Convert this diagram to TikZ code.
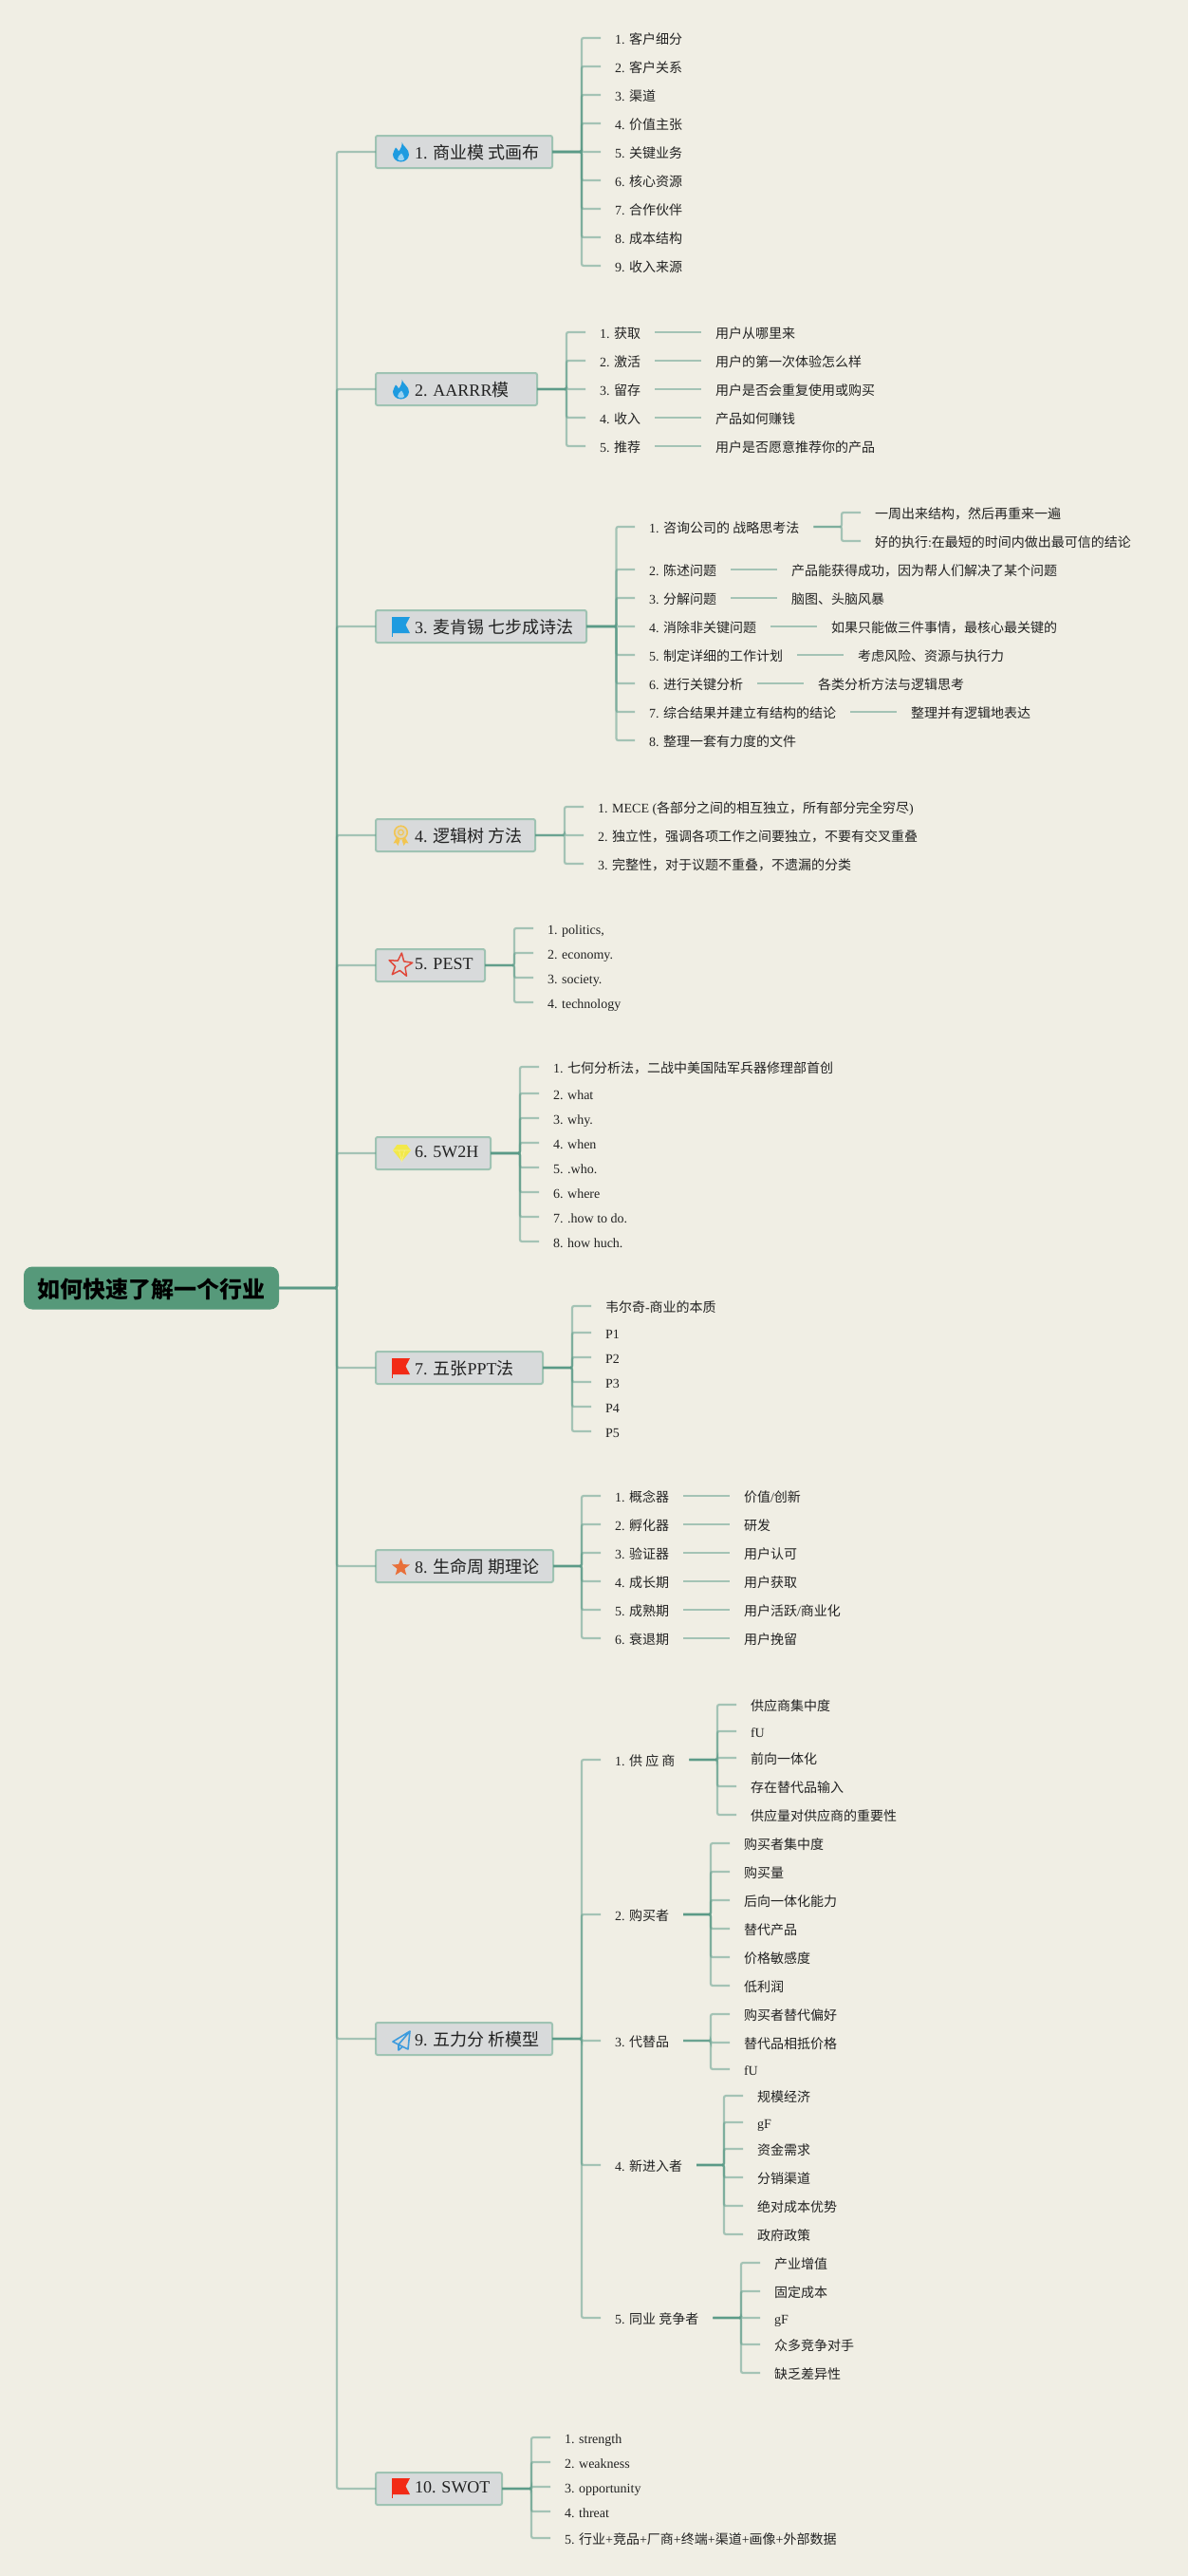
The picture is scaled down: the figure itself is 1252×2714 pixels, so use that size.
\documentclass[tikz,border=0pt]{standalone}
\usepackage{fontspec}
\setmainfont{Liberation Serif}
\newfontfamily\cjk{Noto Sans CJK SC}
\newcommand\zh[1]{{\cjk #1}}
\definecolor{paper}{HTML}{F0EEE4}
\definecolor{linkc}{HTML}{5A9A87}
\definecolor{boxfill}{HTML}{D8DADB}
\definecolor{boxline}{HTML}{9FC3B3}
\definecolor{rootfill}{HTML}{56997A}
\definecolor{inkc}{HTML}{222222}
\definecolor{fireblue}{HTML}{1E9BE0}
\definecolor{flagred}{HTML}{F22A16}
\definecolor{medal}{HTML}{F2C550}
\definecolor{gem}{HTML}{F2E84A}
\definecolor{planeblue}{HTML}{3D9BDD}
\definecolor{starred}{HTML}{E0483A}
\definecolor{starorange}{HTML}{E8703A}
\tikzset{
  link/.style={draw=linkc,line width=2.2pt,opacity=.5,rounded corners=2pt},
  leaf/.style={anchor=west,inner xsep=15pt,inner ysep=0pt,outer sep=0pt,text=inkc,
    font=\fontsize{14}{16}\selectfont,text height=15pt,text depth=1.4pt},
  branchbox/.style={anchor=west,draw=boxline,fill=boxfill,line width=2pt,rounded corners=2pt,
    inner sep=0pt,outer sep=0pt,minimum height=34pt,text=inkc,
    font=\fontsize{18}{20}\selectfont,text height=17.2pt,text depth=1.8pt},
  rootbox/.style={fill=rootfill,rounded corners=9pt,inner sep=0pt,outer sep=0pt,
    minimum width=269pt,minimum height=45pt,text=black,
    font=\fontsize{24}{28}\selectfont\bfseries,text height=22pt,text depth=1.8pt},
  flameicon/.pic={
    \fill[fireblue] (1,-10.5) .. controls (1.5,-6) and (9,-3) .. (8.5,3)
      .. controls (8.2,8) and (4,10.5) .. (0,10.5)
      .. controls (-5,10.5) and (-8.5,7) .. (-8.5,2.5)
      .. controls (-8.5,-1) and (-6,-2) .. (-5.5,-4.5)
      .. controls (-3.5,-3) and (-3,-2) .. (-2.5,-0.5)
      .. controls (0,-3) and (1.5,-7) .. (1,-10.5) -- cycle;
    \fill[fireblue!45!white] (0.5,1.5) .. controls (1,4) and (4,4.5) .. (3.5,7.5)
      .. controls (3,9.5) and (-2.5,10) .. (-3.5,7.5)
      .. controls (-4,5) and (-1,4) .. (0.5,1.5) -- cycle;
  },
  flagicon/.pic={
    \fill (-9.5,-10) -- (9.5,-10) -- (5,-1.5) -- (9.5,7) -- (-9.5,7) -- cycle;
    \fill (-9.5,-10) rectangle (-8.5,11);
  },
  medalicon/.pic={
    \fill[medal] (-4.5,2) -- (-8,8) -- (-5,7.5) -- (-3,10.5) -- (-1,4.5) -- cycle;
    \fill[medal] (4.5,2) -- (8,8) -- (5,7.5) -- (3,10.5) -- (1,4.5) -- cycle;
    \draw[medal,line width=1.5pt,fill=medal!20!boxfill] (0,-3.5) circle (6.8pt);
    \draw[medal,line width=1.1pt] (0,-3.5) circle (2.8pt);
  },
  gemicon/.pic={
    \fill[gem] (-5,-8.5) -- (5,-8.5) -- (9.5,-2.5) -- (0,9) -- (-9.5,-2.5) -- cycle;
    \draw[gem!60!white,line width=.6pt] (-9.5,-2.5) -- (9.5,-2.5) (-3,-2.5) -- (0,9) -- (3,-2.5);
  },
  planeicon/.pic={
    \draw[planeblue,line width=1.6pt,line join=round]
      (9,-10) -- (-9,1) -- (-3,4) -- cycle
      (9,-10) -- (7,9) -- (-3,4) -- (-3,10) -- (1,6.5);
  },
  staricon/.pic={
    \path[pic actions] (0,-13) -- (3.23,-4.45) -- (12.36,-4.02) -- (5.23,1.7) -- (7.64,10.52)
      -- (0,5.5) -- (-7.64,10.52) -- (-5.23,1.7) -- (-12.36,-4.02) -- (-3.23,-4.45) -- cycle;
  },
}
\newcommand\latinup[1]{\raisebox{3.6pt}{#1}}
\newcommand\branch[5]{%
  \node[branchbox] (#1) at (396,#2) {\makebox[#3pt][l]{\hspace{41pt}#4}};
  \draw[link] (root.east) -- (root.east -| trunk) |- (#1.west);
  \coordinate (#5) at (#1.east);}
% name, parent, trunk coordinate, x of west end, y, text
\newcommand\kid[6]{%
  \node[leaf] (#1) at (#4,#5) {#6};
  \draw[link] (#2.east) -- (#2.east -| #3) |- (#1.west);}
% name, parent, x, y, text
\newcommand\gkid[5]{%
  \node[leaf] (#1) at (#3,#4) {#5};
  \draw[link] (#2.east) -- (#1.west);}
\begin{document}
\begin{tikzpicture}[x=1pt,y=-1pt]
\useasboundingbox (0,0) rectangle (1252,2714);
\fill[paper] (0,0) rectangle (1252,2714);
\node[rootbox] (root) at (159.5,1357) {\cjk 如何快速了解一个行业};
\coordinate (trunk) at (355,0);
\coordinate (t1) at (613,0);
\coordinate (t2) at (597,0);
\coordinate (t3) at (649.5,0);
\coordinate (t31) at (887,0);
\coordinate (t4) at (595,0);
\coordinate (t5) at (542,0);
\coordinate (t6) at (548,0);
\coordinate (t7) at (603,0);
\coordinate (t8) at (613,0);
\coordinate (t9) at (613,0);
\coordinate (t91) at (756,0);
\coordinate (t92) at (749,0);
\coordinate (t94) at (763,0);
\coordinate (t95) at (781,0);
\coordinate (t10) at (560,0);

% 1
\branch{b1}{160}{186}{1. \zh{商业模 式画布}}{e1}
\pic at (422.5,160) {flameicon};
\kid{n11}{b1}{t1}{633}{40}{1. \zh{客户细分}}
\kid{n12}{b1}{t1}{633}{70}{2. \zh{客户关系}}
\kid{n13}{b1}{t1}{633}{100}{3. \zh{渠道}}
\kid{n14}{b1}{t1}{633}{130}{4. \zh{价值主张}}
\kid{n15}{b1}{t1}{633}{160}{5. \zh{关键业务}}
\kid{n16}{b1}{t1}{633}{190}{6. \zh{核心资源}}
\kid{n17}{b1}{t1}{633}{220}{7. \zh{合作伙伴}}
\kid{n18}{b1}{t1}{633}{250}{8. \zh{成本结构}}
\kid{n19}{b1}{t1}{633}{280}{9. \zh{收入来源}}

% 2
\branch{b2}{410}{170}{2. AARRR\zh{模}}{e2}
\pic at (422.5,410) {flameicon};
\kid{n21}{b2}{t2}{617}{350}{1. \zh{获取}}
\kid{n22}{b2}{t2}{617}{380}{2. \zh{激活}}
\kid{n23}{b2}{t2}{617}{410}{3. \zh{留存}}
\kid{n24}{b2}{t2}{617}{440}{4. \zh{收入}}
\kid{n25}{b2}{t2}{617}{470}{5. \zh{推荐}}
\gkid{g21}{n21}{739}{350}{\zh{用户从哪里来}}
\gkid{g22}{n22}{739}{380}{\zh{用户的第一次体验怎么样}}
\gkid{g23}{n23}{739}{410}{\zh{用户是否会重复使用或购买}}
\gkid{g24}{n24}{739}{440}{\zh{产品如何赚钱}}
\gkid{g25}{n25}{739}{470}{\zh{用户是否愿意推荐你的产品}}

% 3
\branch{b3}{660}{222}{3. \zh{麦肯锡 七步成诗法}}{e3}
\pic[fireblue] at (422.5,660) {flagicon};
\kid{n31}{b3}{t3}{669}{555}{1. \zh{咨询公司的 战略思考法}}
\kid{n32}{b3}{t3}{669}{600}{2. \zh{陈述问题}}
\kid{n33}{b3}{t3}{669}{630}{3. \zh{分解问题}}
\kid{n34}{b3}{t3}{669}{660}{4. \zh{消除非关键问题}}
\kid{n35}{b3}{t3}{669}{690}{5. \zh{制定详细的工作计划}}
\kid{n36}{b3}{t3}{669}{720}{6. \zh{进行关键分析}}
\kid{n37}{b3}{t3}{669}{750}{7. \zh{综合结果并建立有结构的结论}}
\kid{n38}{b3}{t3}{669}{780}{8. \zh{整理一套有力度的文件}}
\kid{g311}{n31}{t31}{907}{540}{\zh{一周出来结构，然后再重来一遍}}
\kid{g312}{n31}{t31}{907}{570}{\zh{好的执行}:\zh{在最短的时间内做出最可信的结论}}
\gkid{g32}{n32}{819}{600}{\zh{产品能获得成功，因为帮人们解决了某个问题}}
\gkid{g33}{n33}{819}{630}{\zh{脑图、头脑风暴}}
\gkid{g34}{n34}{861}{660}{\zh{如果只能做三件事情，最核心最关键的}}
\gkid{g35}{n35}{889}{690}{\zh{考虑风险、资源与执行力}}
\gkid{g36}{n36}{847}{720}{\zh{各类分析方法与逻辑思考}}
\gkid{g37}{n37}{945}{750}{\zh{整理并有逻辑地表达}}

% 4
\branch{b4}{880}{168}{4. \zh{逻辑树 方法}}{e4}
\pic at (422.5,880.5) {medalicon};
\kid{n41}{b4}{t4}{615}{850}{1. MECE (\zh{各部分之间的相互独立，所有部分完全穷尽})}
\kid{n42}{b4}{t4}{615}{880}{2. \zh{独立性，强调各项工作之间要独立，不要有交叉重叠}}
\kid{n43}{b4}{t4}{615}{910}{3. \zh{完整性，对于议题不重叠，不遗漏的分类}}

% 5
\branch{b5}{1017}{115}{\latinup{5. PEST}}{e5}
\pic[draw=starred,line width=1.5pt,line join=round,rotate=-6] at (422,1017) {staricon};
\kid{n51}{b5}{t5}{562}{978}{1. politics,}
\kid{n52}{b5}{t5}{562}{1004}{2. economy.}
\kid{n53}{b5}{t5}{562}{1030}{3. society.}
\kid{n54}{b5}{t5}{562}{1056}{4. technology}

% 6
\branch{b6}{1215}{121}{\latinup{6. 5W2H}}{e6}
\pic at (423.5,1214.5) {gemicon};
\kid{n61}{b6}{t6}{568}{1124}{1. \zh{七何分析法，二战中美国陆军兵器修理部首创}}
\kid{n62}{b6}{t6}{568}{1152}{2. what}
\kid{n63}{b6}{t6}{568}{1178}{3. why.}
\kid{n64}{b6}{t6}{568}{1204}{4. when}
\kid{n65}{b6}{t6}{568}{1230}{5. .who.}
\kid{n66}{b6}{t6}{568}{1256}{6. where}
\kid{n67}{b6}{t6}{568}{1282}{7. .how to do.}
\kid{n68}{b6}{t6}{568}{1308}{8. how huch.}

% 7
\branch{b7}{1441}{176}{7. \zh{五张}PPT\zh{法}}{e7}
\pic[flagred] at (422.5,1441) {flagicon};
\kid{n71}{b7}{t7}{623}{1376}{\zh{韦尔奇}-\zh{商业的本质}}
\kid{n72}{b7}{t7}{623}{1404}{P1}
\kid{n73}{b7}{t7}{623}{1430}{P2}
\kid{n74}{b7}{t7}{623}{1456}{P3}
\kid{n75}{b7}{t7}{623}{1482}{P4}
\kid{n76}{b7}{t7}{623}{1508}{P5}

% 8
\branch{b8}{1650}{187}{8. \zh{生命周 期理论}}{e8}
\pic[fill=starorange,scale=.76] at (422.5,1651.5) {staricon};
\kid{n81}{b8}{t8}{633}{1576}{1. \zh{概念器}}
\kid{n82}{b8}{t8}{633}{1606}{2. \zh{孵化器}}
\kid{n83}{b8}{t8}{633}{1636}{3. \zh{验证器}}
\kid{n84}{b8}{t8}{633}{1666}{4. \zh{成长期}}
\kid{n85}{b8}{t8}{633}{1696}{5. \zh{成熟期}}
\kid{n86}{b8}{t8}{633}{1726}{6. \zh{衰退期}}
\gkid{g81}{n81}{769}{1576}{\zh{价值}/\zh{创新}}
\gkid{g82}{n82}{769}{1606}{\zh{研发}}
\gkid{g83}{n83}{769}{1636}{\zh{用户认可}}
\gkid{g84}{n84}{769}{1666}{\zh{用户获取}}
\gkid{g85}{n85}{769}{1696}{\zh{用户活跃}/\zh{商业化}}
\gkid{g86}{n86}{769}{1726}{\zh{用户挽留}}

% 9
\branch{b9}{2148}{186}{9. \zh{五力分 析模型}}{e9}
\pic at (423,2150) {planeicon};
\kid{n91}{b9}{t9}{633}{1854}{1. \zh{供 应 商}}
\kid{n92}{b9}{t9}{633}{2017}{2. \zh{购买者}}
\kid{n93}{b9}{t9}{633}{2150}{3. \zh{代替品}}
\kid{n94}{b9}{t9}{633}{2281}{4. \zh{新进入者}}
\kid{n95}{b9}{t9}{633}{2442}{5. \zh{同业 竞争者}}
\kid{g911}{n91}{t91}{776}{1796}{\zh{供应商集中度}}
\kid{g912}{n91}{t91}{776}{1824}{fU}
\kid{g913}{n91}{t91}{776}{1852}{\zh{前向一体化}}
\kid{g914}{n91}{t91}{776}{1882}{\zh{存在替代品输入}}
\kid{g915}{n91}{t91}{776}{1912}{\zh{供应量对供应商的重要性}}
\kid{g921}{n92}{t92}{769}{1942}{\zh{购买者集中度}}
\kid{g922}{n92}{t92}{769}{1972}{\zh{购买量}}
\kid{g923}{n92}{t92}{769}{2002}{\zh{后向一体化能力}}
\kid{g924}{n92}{t92}{769}{2032}{\zh{替代产品}}
\kid{g925}{n92}{t92}{769}{2062}{\zh{价格敏感度}}
\kid{g926}{n92}{t92}{769}{2092}{\zh{低利润}}
\kid{g931}{n93}{t92}{769}{2122}{\zh{购买者替代偏好}}
\kid{g932}{n93}{t92}{769}{2152}{\zh{替代品相抵价格}}
\kid{g933}{n93}{t92}{769}{2180}{fU}
\kid{g941}{n94}{t94}{783}{2208}{\zh{规模经济}}
\kid{g942}{n94}{t94}{783}{2236}{gF}
\kid{g943}{n94}{t94}{783}{2264}{\zh{资金需求}}
\kid{g944}{n94}{t94}{783}{2294}{\zh{分销渠道}}
\kid{g945}{n94}{t94}{783}{2324}{\zh{绝对成本优势}}
\kid{g946}{n94}{t94}{783}{2354}{\zh{政府政策}}
\kid{g951}{n95}{t95}{801}{2384}{\zh{产业增值}}
\kid{g952}{n95}{t95}{801}{2414}{\zh{固定成本}}
\kid{g953}{n95}{t95}{801}{2442}{gF}
\kid{g954}{n95}{t95}{801}{2470}{\zh{众多竞争对手}}
\kid{g955}{n95}{t95}{801}{2500}{\zh{缺乏差异性}}

% 10
\branch{b10}{2622}{133}{\latinup{10. SWOT}}{e10}
\pic[flagred] at (422.5,2621) {flagicon};
\kid{n101}{b10}{t10}{580}{2568}{1. strength}
\kid{n102}{b10}{t10}{580}{2594}{2. weakness}
\kid{n103}{b10}{t10}{580}{2620}{3. opportunity}
\kid{n104}{b10}{t10}{580}{2646}{4. threat}
\kid{n105}{b10}{t10}{580}{2674}{5. \zh{行业}+\zh{竞品}+\zh{厂商}+\zh{终端}+\zh{渠道}+\zh{画像}+\zh{外部数据}}
\end{tikzpicture}
\end{document}
